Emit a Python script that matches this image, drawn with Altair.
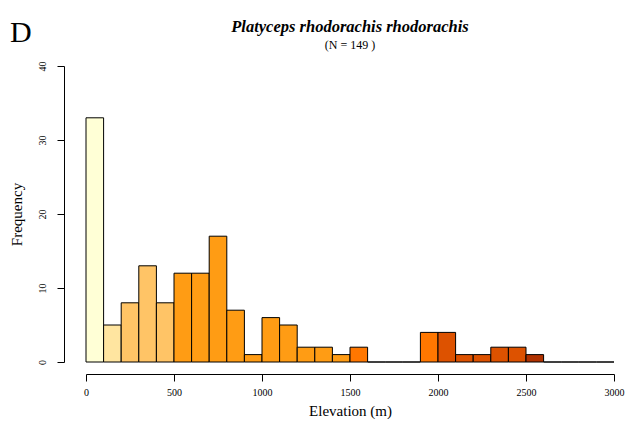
import altair as alt
import pandas as pd

bin_start = [0, 100, 200, 300, 400, 500, 600, 700, 800, 900, 1000, 1100, 1200, 1300, 1400,
             1500, 1600, 1700, 1800, 1900, 2000, 2100, 2200, 2300, 2400, 2500, 2600, 2700, 2800, 2900]
counts = [33, 5, 8, 13, 8, 12, 12, 17, 7, 1, 6, 5, 2, 2, 1,
          2, 0, 0, 0, 4, 4, 1, 1, 2, 2, 1, 0, 0, 0, 0]
band = ["a", "b", "c", "c", "c", "d", "d", "d", "d", "d", "d", "d", "d", "d", "d",
        "e", "e", "e", "e", "e", "f", "f", "f", "f", "f", "g", "g", "g", "g", "g"]
band_names = ["a", "b", "c", "d", "e", "f", "g"]
band_colors = ["#FFFFD6", "#FFE5A0", "#FFC466", "#FF9C14", "#FF7700", "#DD5200", "#B03200"]
bin_width = 100

title_text = ["Platyceps rhodorachis rhodorachis"]
subtitle_text = ["(N = 149 )"]
panel_letter = ["D"]

df = pd.DataFrame({"start": bin_start, "count": counts, "band": band})
df["end"] = df["start"] + bin_width
df["zero"] = 0

FONT = "Liberation Serif"
W, H = 528, 296

bars = alt.Chart(df).mark_rect(stroke="black", strokeWidth=1).encode(
    x=alt.X("start:Q",
            scale=alt.Scale(domain=[0, 3000], nice=False, zero=False),
            axis=alt.Axis(values=[0, 500, 1000, 1500, 2000, 2500, 3000], format="d",
                          offset=12, tickSize=7, grid=False, domainColor="black",
                          tickColor="black", labelFont=FONT, labelFontSize=10,
                          labelColor="black", labelPadding=6, title="Elevation (m)",
                          titleFont=FONT, titleFontSize=15, titleFontWeight="normal",
                          titleColor="black", titlePadding=6, labelFlush=False)),
    x2="end:Q",
    y=alt.Y("count:Q",
            scale=alt.Scale(domain=[0, 40], nice=False),
            axis=alt.Axis(values=[0, 10, 20, 30, 40], offset=22, tickSize=7, grid=False,
                          domainColor="black", tickColor="black", labelFont=FONT,
                          labelFontSize=10, labelColor="black", labelAngle=-90,
                          labelAlign="center", labelBaseline="bottom", labelPadding=10,
                          title="Frequency", titleFont=FONT, titleFontSize=15,
                          titleFontWeight="normal", titleColor="black", titlePadding=13,
                          labelFlush=False)),
    y2="zero:Q",
    color=alt.Color("band:N", scale=alt.Scale(domain=band_names, range=band_colors),
                    legend=None),
)

letter = alt.Chart(pd.DataFrame({"t": panel_letter})).mark_text(
    font=FONT, fontSize=30, align="left", baseline="alphabetic", color="black"
).encode(text="t:N", x=alt.value(-76), y=alt.value(-24))

title = alt.Chart(pd.DataFrame({"t": title_text})).mark_text(
    font=FONT, fontSize=16.5, fontStyle="italic", fontWeight="bold", align="center",
    baseline="alphabetic", color="black"
).encode(text="t:N", x=alt.value(W / 2), y=alt.value(-34))

subtitle = alt.Chart(pd.DataFrame({"t": subtitle_text})).mark_text(
    font=FONT, fontSize=12, align="center", baseline="alphabetic", color="black"
).encode(text="t:N", x=alt.value(W / 2), y=alt.value(-17))

chart = alt.layer(bars, letter, title, subtitle).properties(
    width=W,
    height=H,
    autosize=alt.AutoSizeParams(type="none"),
    padding={"left": 78, "top": 58, "right": 11, "bottom": 57},
).configure_view(stroke=None)

chart.save("out.html", embed_options={"renderer": "svg", "actions": False})
